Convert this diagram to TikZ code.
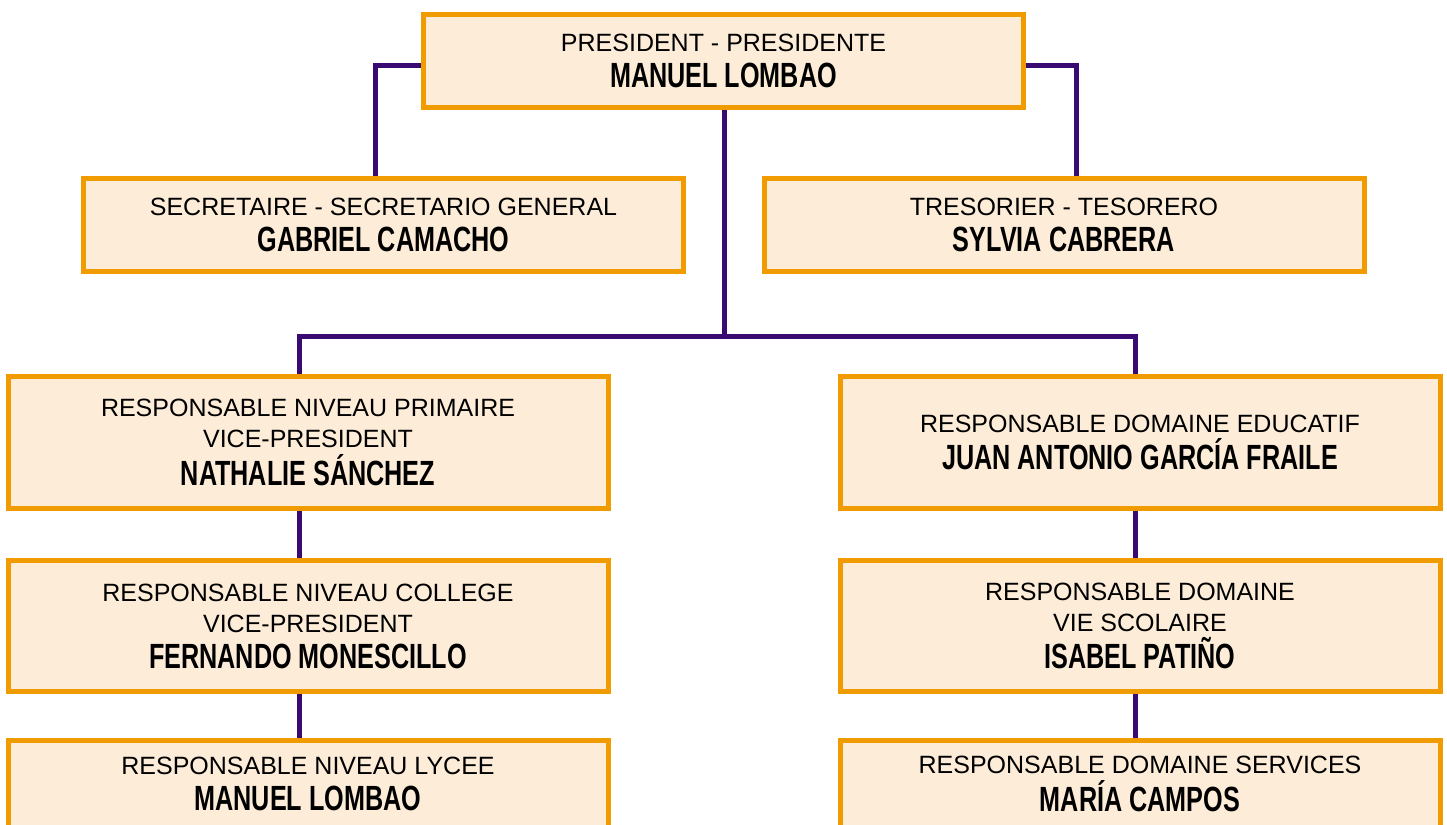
\documentclass[tikz,border=0pt]{standalone}
\usepackage{fontspec}
\setmainfont{Liberation Sans}
\newfontfamily\namefont{Liberation Sans}[FakeStretch=0.72,UprightFont={* Bold}]
\usetikzlibrary{backgrounds}
\definecolor{boxline}{RGB}{240,155,0}
\definecolor{boxfill}{RGB}{253,236,215}
\definecolor{connline}{RGB}{58,10,115}
\newcommand{\nm}{\namefont\fontsize{35}{32}\selectfont}
\begin{document}
\begin{tikzpicture}[x=1pt,y=-1pt,
  orgbox/.style={draw=boxline,fill=boxfill,line width=5pt,minimum width=600pt,
    inner sep=0pt,align=center,font=\fontsize{25}{31}\selectfont},
  shortbox/.style={orgbox,minimum height=93pt},
  tallbox/.style={orgbox,minimum height=131.4pt},
  lowbox/.style={orgbox,minimum height=88pt},
  conn/.style={draw=connline,line width=5pt}]
\useasboundingbox (0,0) rectangle (1447,824);
\node[shortbox] (pres) at (723.5,61) {PRESIDENT - PRESIDENTE\\[5pt]{\nm MANUEL LOMBAO}};
\node[shortbox] (sec) at (383.5,225) {SECRETAIRE - SECRETARIO GENERAL\\[5pt]{\nm GABRIEL CAMACHO}};
\node[shortbox] (tre) at (1064,225) {TRESORIER - TESORERO\\[5pt]{\nm SYLVIA CABRERA}};
\node[tallbox] (l1) at (308,442.5) {RESPONSABLE NIVEAU PRIMAIRE\\VICE-PRESIDENT\\[5pt]{\nm NATHALIE SÁNCHEZ}};
\node[tallbox] (l2) at (308,626) {RESPONSABLE NIVEAU COLLEGE\\VICE-PRESIDENT\\[5pt]{\nm FERNANDO MONESCILLO}};
\node[lowbox] (l3) at (308,784) {RESPONSABLE NIVEAU LYCEE\\[5pt]{\nm MANUEL LOMBAO}};
\node[tallbox] (r1) at (1140,442.5) {RESPONSABLE DOMAINE EDUCATIF\\[5pt]{\nm JUAN ANTONIO GARCÍA FRAILE}};
\node[tallbox] (r2) at (1140,626) {RESPONSABLE DOMAINE\\VIE SCOLAIRE\\[5pt]{\nm ISABEL PATIÑO}};
\node[lowbox] (r3) at (1140,784) {RESPONSABLE DOMAINE SERVICES\\[5pt]{\nm MARÍA CAMPOS}};
\coordinate (hub) at (724.7,336.5);
\begin{scope}[on background layer]
\draw[conn] ([yshift=-4.5pt]pres.west) -| ([xshift=-8.5pt]sec.north);
\draw[conn] ([yshift=-4.5pt]pres.east) -| ([xshift=12.7pt]tre.north);
\draw[conn] (pres.south -| hub) -- (hub);
\draw[conn] (hub) -| ([xshift=-8.5pt]l1.north);
\draw[conn] (hub) -| ([xshift=-5pt]r1.north);
\draw[conn] ([xshift=-8.5pt]l1.south) -- ([xshift=-8.5pt]l2.north);
\draw[conn] ([xshift=-8.5pt]l2.south) -- ([xshift=-8.5pt]l3.north);
\draw[conn] ([xshift=-5pt]r1.south) -- ([xshift=-5pt]r2.north);
\draw[conn] ([xshift=-5pt]r2.south) -- ([xshift=-5pt]r3.north);
\end{scope}
\end{tikzpicture}
\end{document}
